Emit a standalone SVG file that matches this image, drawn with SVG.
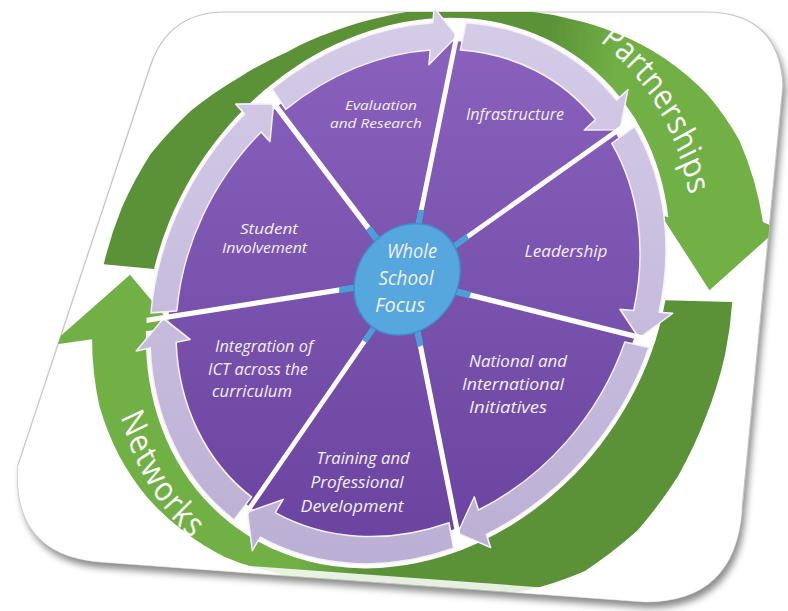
<svg xmlns="http://www.w3.org/2000/svg" width="788" height="611" viewBox="0 0 788 611">
<defs>
  <filter id="blur" x="-10%" y="-10%" width="120%" height="120%"><feGaussianBlur stdDeviation="3.5"/></filter>
  <linearGradient id="purp" gradientUnits="userSpaceOnUse" x1="0" y1="-250" x2="0" y2="250">
    <stop offset="0" stop-color="#8a62bd"/><stop offset="1" stop-color="#69439f"/>
  </linearGradient>
  <linearGradient id="ringg" gradientUnits="userSpaceOnUse" x1="0" y1="-270" x2="0" y2="270">
    <stop offset="0" stop-color="#d5cce8"/><stop offset="1" stop-color="#bbaed4"/>
  </linearGradient>
  <linearGradient id="g1" gradientUnits="userSpaceOnUse" x1="100" y1="0" x2="175" y2="0">
    <stop offset="0" stop-color="#5b9137"/><stop offset="1" stop-color="#71b045"/>
  </linearGradient>
  <linearGradient id="g2" gradientUnits="userSpaceOnUse" x1="-70" y1="0" x2="0" y2="0">
    <stop offset="0" stop-color="#71b045"/><stop offset="1" stop-color="#5b9137"/>
  </linearGradient>
  <clipPath id="cardclip"><path d="M 225,12 L 705,12 Q 779,12 783,85 L 742,510 Q 735,602 645,602 L 100,562 Q 12,555 18,465 L 150,67 Q 168,12 225,12 Z"/></clipPath>
  <path id="pPart" d="M 34.7,-282.9 A 285 285 0 0 1 282.9,34.7"/>
  <path id="pNet" d="M -296,0 A 296 296 0 0 0 -71.6,287.2"/>
  <style>
    .lbl { font-family: "Open Sans", "Liberation Sans", sans-serif; font-style: italic; fill: #f3eff9; text-anchor: middle; }
    .big { font-family: "Open Sans", "Liberation Sans", sans-serif; fill: #ffffff; font-size: 31px; }
    .wedge { fill: url(#purp); }
    .ring { fill: url(#ringg); stroke: #f4f1fa; stroke-width: 1.5; stroke-linejoin: round; }
    .div { stroke: #ffffff; stroke-width: 5; fill: none; }
    .stub { stroke: #4b9ed8; stroke-width: 6; fill: none; }
  </style>
</defs>

<rect x="0" y="0" width="788" height="611" fill="#ffffff"/>

<g id="card">
  <path d="M 225,12 L 705,12 Q 779,12 783,85 L 742,510 Q 735,602 645,602 L 100,562 Q 12,555 18,465 L 150,67 Q 168,12 225,12 Z" transform="translate(3,6)" fill="#8a8a8a" filter="url(#blur)"/>
  <path d="M 225,12 L 705,12 Q 779,12 783,85 L 742,510 Q 735,602 645,602 L 100,562 Q 12,555 18,465 L 150,67 Q 168,12 225,12 Z" fill="#ffffff" stroke="#c4c4c4" stroke-width="1.2"/>
</g>

<g id="n-eval">
  <path class="wedge" transform="matrix(0.987,0,-0.162,1.05,408,293)" d="M -3,-13 L -162.5,-176.7 A 240 240 0 0 1 9.2,-239.8 Z"/>
  <text class="lbl" font-size="13"><tspan x="381" y="110" textLength="72" lengthAdjust="spacingAndGlyphs">Evaluation</tspan><tspan x="376" y="128" textLength="92" lengthAdjust="spacingAndGlyphs">and Research</tspan></text>
</g>
<g id="n-infra">
  <path class="wedge" transform="matrix(0.987,0,-0.162,1.05,408,293)" d="M -3,-13 L 9.2,-239.8 A 240 240 0 0 1 185.4,-152.3 Z"/>
  <text class="lbl" font-size="16" x="515" y="120" textLength="98" lengthAdjust="spacingAndGlyphs">Infrastructure</text>
</g>
<g id="n-lead">
  <path class="wedge" transform="matrix(0.987,0,-0.162,1.05,408,293)" d="M -3,-13 L 185.4,-152.3 A 240 240 0 0 1 236.3,42.1 Z"/>
  <text class="lbl" font-size="17" x="566" y="257" textLength="83" lengthAdjust="spacingAndGlyphs">Leadership</text>
</g>
<g id="n-nat">
  <path class="wedge" transform="matrix(0.987,0,-0.162,1.05,408,293)" d="M -3,-13 L 236.3,42.1 A 240 240 0 0 1 86.0,224.1 Z"/>
  <text class="lbl" font-size="16"><tspan x="518" y="367" textLength="98" lengthAdjust="spacingAndGlyphs">National and</tspan><tspan x="513" y="390" textLength="102" lengthAdjust="spacingAndGlyphs">International</tspan><tspan x="508" y="413" textLength="78" lengthAdjust="spacingAndGlyphs">Initiatives</tspan></text>
</g>
<g id="n-train">
  <path class="wedge" transform="matrix(0.987,0,-0.162,1.05,408,293)" d="M -3,-13 L 86.0,224.1 A 240 240 0 0 1 -125.8,204.4 Z"/>
  <text class="lbl" font-size="17"><tspan x="363" y="464" textLength="93" lengthAdjust="spacingAndGlyphs">Training and</tspan><tspan x="357" y="488" textLength="93" lengthAdjust="spacingAndGlyphs">Professional</tspan><tspan x="352" y="512" textLength="103" lengthAdjust="spacingAndGlyphs">Development</tspan></text>
</g>
<g id="n-ict">
  <path class="wedge" transform="matrix(0.987,0,-0.162,1.05,408,293)" d="M -3,-13 L -125.8,204.4 A 240 240 0 0 1 -238.8,23.8 Z"/>
  <text class="lbl" font-size="16"><tspan x="264" y="352" textLength="98" lengthAdjust="spacingAndGlyphs">Integration of</tspan><tspan x="258" y="374.5" textLength="100" lengthAdjust="spacingAndGlyphs">ICT across the</tspan><tspan x="252" y="397" textLength="80" lengthAdjust="spacingAndGlyphs">curriculum</tspan></text>
</g>
<g id="n-student">
  <path class="wedge" transform="matrix(0.987,0,-0.162,1.05,408,293)" d="M -3,-13 L -238.8,23.8 A 240 240 0 0 1 -162.5,-176.7 Z"/>
  <text class="lbl" font-size="14"><tspan x="269" y="234" textLength="58" lengthAdjust="spacingAndGlyphs">Student</tspan><tspan x="264.5" y="253" textLength="85" lengthAdjust="spacingAndGlyphs">Involvement</tspan></text>
</g>

<g id="connectors">
  <g clip-path="url(#cardclip)">
    <g transform="matrix(0.987,0,-0.162,1.05,408,293)">
      <path id="arrow-partnerships" fill="url(#g1)" d="M -261.0,-22.8 L -312.8,-27.4 A 313 313 0 0 1 -303.3,-81.3 A 313 313 0 0 1 -282.8,-131.9 A 307 307 0 0 1 -248.2,-173.8 A 296 296 0 0 1 -205.1,-205.1 A 285 285 0 0 1 -160.6,-229.4 A 277 277 0 0 1 -116.2,-249.2 A 273 273 0 0 1 -70.4,-262.7 A 271 271 0 0 1 -23.6,-270.0 A 272 272 0 0 1 23.8,-272.0 A 275 275 0 0 1 71.9,-268.5 A 283 283 0 0 1 121.7,-261.0 A 294 294 0 0 1 172.7,-246.6 A 308 308 0 0 1 223.4,-223.4 A 323 323 0 0 1 271.2,-189.9 A 337 337 0 0 1 311.8,-145.4 A 350 350 0 0 1 348.5,-67.7 L 364.9,-61.1 L 305.0,-2.7 L 243.9,-74.6 L 251.9,-72.2 A 262 262 0 0 0 -261.0,-22.8 Z"/>
      <path id="arrow-networks" fill="url(#g2)" d="M 261.9,6.9 L 329.9,8.6 A 333 333 0 0 1 330.9,58.3 A 339 339 0 0 1 321.4,117.0 A 345 345 0 0 1 302.2,174.5 A 350 350 0 0 1 269.6,226.3 A 349 349 0 0 1 222.4,265.0 A 337 337 0 0 1 164.0,284.0 A 316 316 0 0 1 104.3,286.6 A 296 296 0 0 1 50.0,283.6 A 285 285 0 0 1 0,282 A 281 281 0 0 1 -48.8,276.7 A 282 282 0 0 1 -96.4,265.0 A 286 286 0 0 1 -145.0,251.1 A 293 293 0 0 1 -190.3,226.7 A 300 300 0 0 1 -232.1,194.8 A 306 306 0 0 1 -267.6,154.5 A 312 312 0 0 1 -295.1,107.4 A 315 315 0 0 1 -312.9,44.0 L -354.5,49.8 L -284.5,-17.4 L -231.7,32.6 L -259.5,36.5 A 262 262 0 0 0 261.9,6.9 Z"/>
      <text class="big" letter-spacing="0.5"><textPath href="#pPart" startOffset="50%" text-anchor="middle">Partnerships</textPath></text>
      <text class="big" letter-spacing="1.5"><textPath href="#pNet" startOffset="50%" text-anchor="middle">Networks</textPath></text>
    </g>
  </g>
  <path d="M 18,465 Q 12,555 100,562 L 645,602 Q 735,602 742,510" fill="none" stroke="#ffffff" stroke-width="14" opacity="0.85" clip-path="url(#cardclip)"/>
  <g transform="matrix(0.987,0,-0.162,1.05,408,293)">
    <path class="ring" d="M -152.5,-174.8 L -169.6,-194.4 A 258 258 0 0 1 -17.1,-257.4 L -18.0,-271.4 L 9.4,-244.8 L -14.5,-217.5 L -15.4,-231.5 A 232 232 0 0 0 -152.5,-174.8 Z"/>
    <path class="ring" d="M 15.0,-231.5 L 16.6,-257.5 A 258 258 0 0 1 181.2,-183.7 L 191.0,-193.7 L 189.3,-155.5 L 153.1,-155.2 L 162.9,-165.2 A 232 232 0 0 0 15.0,-231.5 Z"/>
    <path class="ring" d="M 183.1,-142.5 L 203.6,-158.5 A 258 258 0 0 1 257.3,18.4 L 271.3,19.4 L 241.2,43.0 L 217.4,15.6 L 231.4,16.6 A 232 232 0 0 0 183.1,-142.5 Z"/>
    <path class="ring" d="M 227.3,46.7 L 252.7,51.9 A 258 258 0 0 1 117.1,229.9 L 123.5,242.4 L 87.8,228.7 L 99.0,194.2 L 105.3,206.7 A 232 232 0 0 0 227.3,46.7 Z"/>
    <path class="ring" d="M 77.4,218.7 L 86.1,243.2 A 258 258 0 0 1 -111.5,232.7 L -117.5,245.3 L -128.4,208.7 L -94.2,196.6 L -100.2,209.2 A 232 232 0 0 0 77.4,218.7 Z"/>
    <path class="ring" d="M -126.7,194.3 L -140.9,216.1 A 258 258 0 0 1 -252.6,52.3 L -266.3,55.2 L -243.8,24.3 L -213.5,44.2 L -227.2,47.0 A 232 232 0 0 0 -126.7,194.3 Z"/>
    <path class="ring" d="M -231.4,17.0 L -257.3,18.9 A 258 258 0 0 1 -193.5,-170.6 L -204.0,-179.9 L -165.8,-180.3 L -163.5,-144.2 L -174.0,-153.4 A 232 232 0 0 0 -231.4,17.0 Z"/>
  </g>
</g>

<g id="dividers" transform="matrix(0.987,0,-0.162,1.05,408,293)">
  <path class="div" d="M -3,-13 L 10.1,-261.8 M -3,-13 L 202.4,-166.3 M -3,-13 L 257.9,46.0 M -3,-13 L 93.9,244.6 M -3,-13 L -137.3,223.1 M -3,-13 L -260.7,26.0 M -3,-13 L -177.4,-192.9"/>
  <path class="stub" d="M -3,-13 L 0.5,-79.1 M -3,-13 L 51.6,-53.7 M -3,-13 L 63.3,2.0 M -3,-13 L 20.9,50.5 M -3,-13 L -36.6,46.1 M -3,-13 L -70.2,-2.8 M -3,-13 L -50.4,-61.9"/>
</g>

<g id="n-hub">
  <circle transform="matrix(0.987,0,-0.162,1.05,408,293)" cx="-3" cy="-13" r="53" fill="#56a7de" stroke="#3f8fcc" stroke-width="1.5"/>
  <text class="lbl" font-size="19.5"><tspan x="412" y="258" textLength="50" lengthAdjust="spacingAndGlyphs">Whole</tspan><tspan x="406" y="285" textLength="55" lengthAdjust="spacingAndGlyphs">School</tspan><tspan x="400" y="312" textLength="50" lengthAdjust="spacingAndGlyphs">Focus</tspan></text>
</g>
</svg>
